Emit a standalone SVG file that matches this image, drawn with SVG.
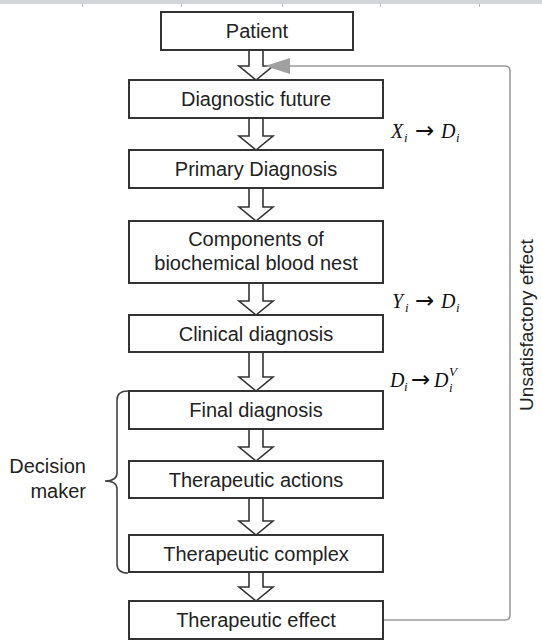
<svg xmlns="http://www.w3.org/2000/svg" width="542" height="641" viewBox="0 0 542 641">
<style>
.box{fill:#fff;stroke:#333;stroke-width:2}
.lbl{font-family:"Liberation Sans",Arial,sans-serif;font-size:20px;fill:#222;text-anchor:middle}
.arr{fill:#fff;stroke:#333;stroke-width:1.6;stroke-linejoin:miter}
.math{font-family:"Liberation Serif","Times New Roman",serif;font-size:20px;fill:#111}
.it{font-style:italic}
.sub{font-size:13px;font-style:italic}
.ar{font-family:"DejaVu Sans",sans-serif;font-size:23px}
</style>
<rect x="0" y="0" width="542" height="4" fill="#d4d4dc"/>
<g fill="#b8b8c0"><rect x="82" y="4" width="1" height="3"/><rect x="181" y="4" width="1" height="3"/><rect x="282" y="4" width="1" height="3"/><rect x="380" y="4" width="1" height="3"/><rect x="479" y="4" width="1" height="3"/></g>
<g id="connectors">
<polygon class="arr" points="249,50 263,50 263,66 273,66 256,80 239,66 249,66"/>
<polygon class="arr" points="249,118 263,118 263,136 273,136 256,150 239,136 249,136"/>
<polygon class="arr" points="249,188 263,188 263,207 273,207 256,221 239,207 249,207"/>
<polygon class="arr" points="249,283 263,283 263,301 273,301 256,315 239,301 249,301"/>
<polygon class="arr" points="249,352 263,352 263,377 273,377 256,391 239,377 249,377"/>
<polygon class="arr" points="249,429 263,429 263,447 273,447 256,461 239,447 249,447"/>
<polygon class="arr" points="249,498 263,498 263,521 273,521 256,535 239,521 249,521"/>
<polygon class="arr" points="249,572 263,572 263,587 273,587 256,601 239,587 249,587"/>
<path d="M383,620 H505 Q510,620 510,615 V71 Q510,66 505,66 H288" fill="none" stroke="#9a9a9a" stroke-width="1.6"/>
<polygon points="265,66 290,58 290,74" fill="#a0a0a0"/>
<path d="M128,391 Q117,391 117,400 V473 Q117,481 105,481 Q117,481 117,489 V564 Q117,573 128,573" fill="none" stroke="#444" stroke-width="1.6"/>
</g>
<g id="patient"><rect class="box" x="161" y="12" width="192" height="38"/><text class="lbl" x="257" y="38">Patient</text></g>
<g id="diagnostic-future"><rect class="box" x="129" y="80" width="254" height="38"/><text class="lbl" x="256" y="106">Diagnostic future</text></g>
<g id="primary-diagnosis"><rect class="box" x="129" y="150" width="254" height="38"/><text class="lbl" x="256" y="176">Primary Diagnosis</text></g>
<g id="components"><rect class="box" x="129" y="221" width="254" height="62"/><text class="lbl" x="256" y="246">Components of</text><text class="lbl" x="256" y="270">biochemical blood nest</text></g>
<g id="clinical-diagnosis"><rect class="box" x="129" y="315" width="254" height="37"/><text class="lbl" x="256" y="341">Clinical diagnosis</text></g>
<g id="final-diagnosis"><rect class="box" x="129" y="391" width="254" height="38"/><text class="lbl" x="256" y="417">Final diagnosis</text></g>
<g id="therapeutic-actions"><rect class="box" x="129" y="461" width="254" height="37"/><text class="lbl" x="256" y="487">Therapeutic actions</text></g>
<g id="therapeutic-complex"><rect class="box" x="129" y="535" width="254" height="37"/><text class="lbl" x="256" y="561">Therapeutic complex</text></g>
<g id="therapeutic-effect"><rect class="box" x="129" y="601" width="254" height="38"/><text class="lbl" x="256" y="627">Therapeutic effect</text></g>
<g id="decision-maker"><text class="lbl" style="text-anchor:end" x="86" y="473">Decision</text><text class="lbl" style="text-anchor:end" x="86" y="498">maker</text></g>
<g id="unsatisfactory"><text class="lbl" transform="translate(533,325) rotate(-90)" x="0" y="0" style="font-size:19px">Unsatisfactory effect</text></g>
<g id="math-labels">
<text class="math" y="138"><tspan class="it" x="391">X</tspan><tspan class="sub" x="404" y="142">i</tspan><tspan class="ar" x="415" y="138">→</tspan><tspan class="it" x="441">D</tspan><tspan class="sub" x="456" y="142">i</tspan></text>
<text class="math" y="308"><tspan class="it" x="392">Y</tspan><tspan class="sub" x="405" y="312">i</tspan><tspan class="ar" x="415" y="308">→</tspan><tspan class="it" x="441">D</tspan><tspan class="sub" x="456" y="312">i</tspan></text>
<text class="math" y="387"><tspan class="it" x="390">D</tspan><tspan class="sub" x="404" y="391">i</tspan><tspan class="ar" x="411" y="387">→</tspan><tspan class="it" x="434">D</tspan><tspan class="sub" x="449" y="392">i</tspan></text>
<text class="math" x="449" y="376"><tspan class="sub">V</tspan></text>
</g>
</svg>
